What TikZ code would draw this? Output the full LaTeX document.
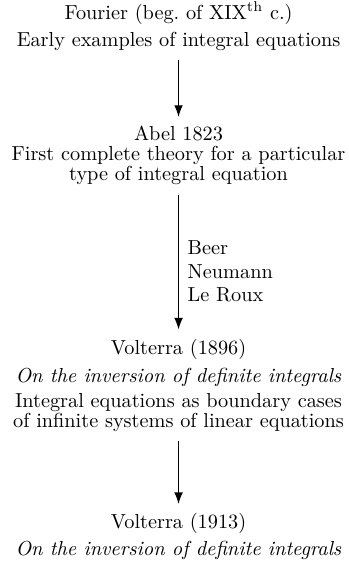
\documentclass[tikz,border=0pt]{standalone}
\usepackage{tikz}
\usetikzlibrary{arrows.meta, positioning, calc}

\begin{document}
\begin{tikzpicture}[
    node distance=1.1cm,
    stage/.style={align=center, inner sep=4.5pt, font=\fontsize{10}{9.85}\selectfont},
    names/.style={align=left, anchor=west, font=\fontsize{10}{9.85}\selectfont},
    arrow/.style={-Latex, semithick}
]

% Stages
\node[stage] (fourier) {Fourier (beg.\ of XIX\textsuperscript{th} c.)\\[3.5pt]Early examples of integral equations};
\node[stage, below=28pt of fourier] (abel) {Abel 1823\\First complete theory for a particular\\type of integral equation};
\node[stage, below=66.5pt of abel] (volt96) {Volterra (1896)\\[4pt]\textit{On the inversion of definite integrals}\\[2.5pt]Integral equations as boundary cases\\of infinite systems of linear equations};
\node[stage, below=31pt of volt96] (volt13) {Volterra (1913)\\[3.2pt]\textit{On the inversion of definite integrals}};

% Connectors
\draw[arrow] (fourier) -- (abel);
\draw[arrow] (abel) -- coordinate[pos=0.57] (mid) (volt96);
\draw[arrow] (volt96) -- (volt13);

% Contributors
\node[names, right=1pt of mid] (contrib) {Beer\\[1.7pt]Neumann\\[1.7pt]Le Roux};

\pgfresetboundingbox
\useasboundingbox ($(fourier.north)+(-88pt,-3.7pt)$) rectangle ++(172pt,-277pt);

\end{tikzpicture}
\end{document}
